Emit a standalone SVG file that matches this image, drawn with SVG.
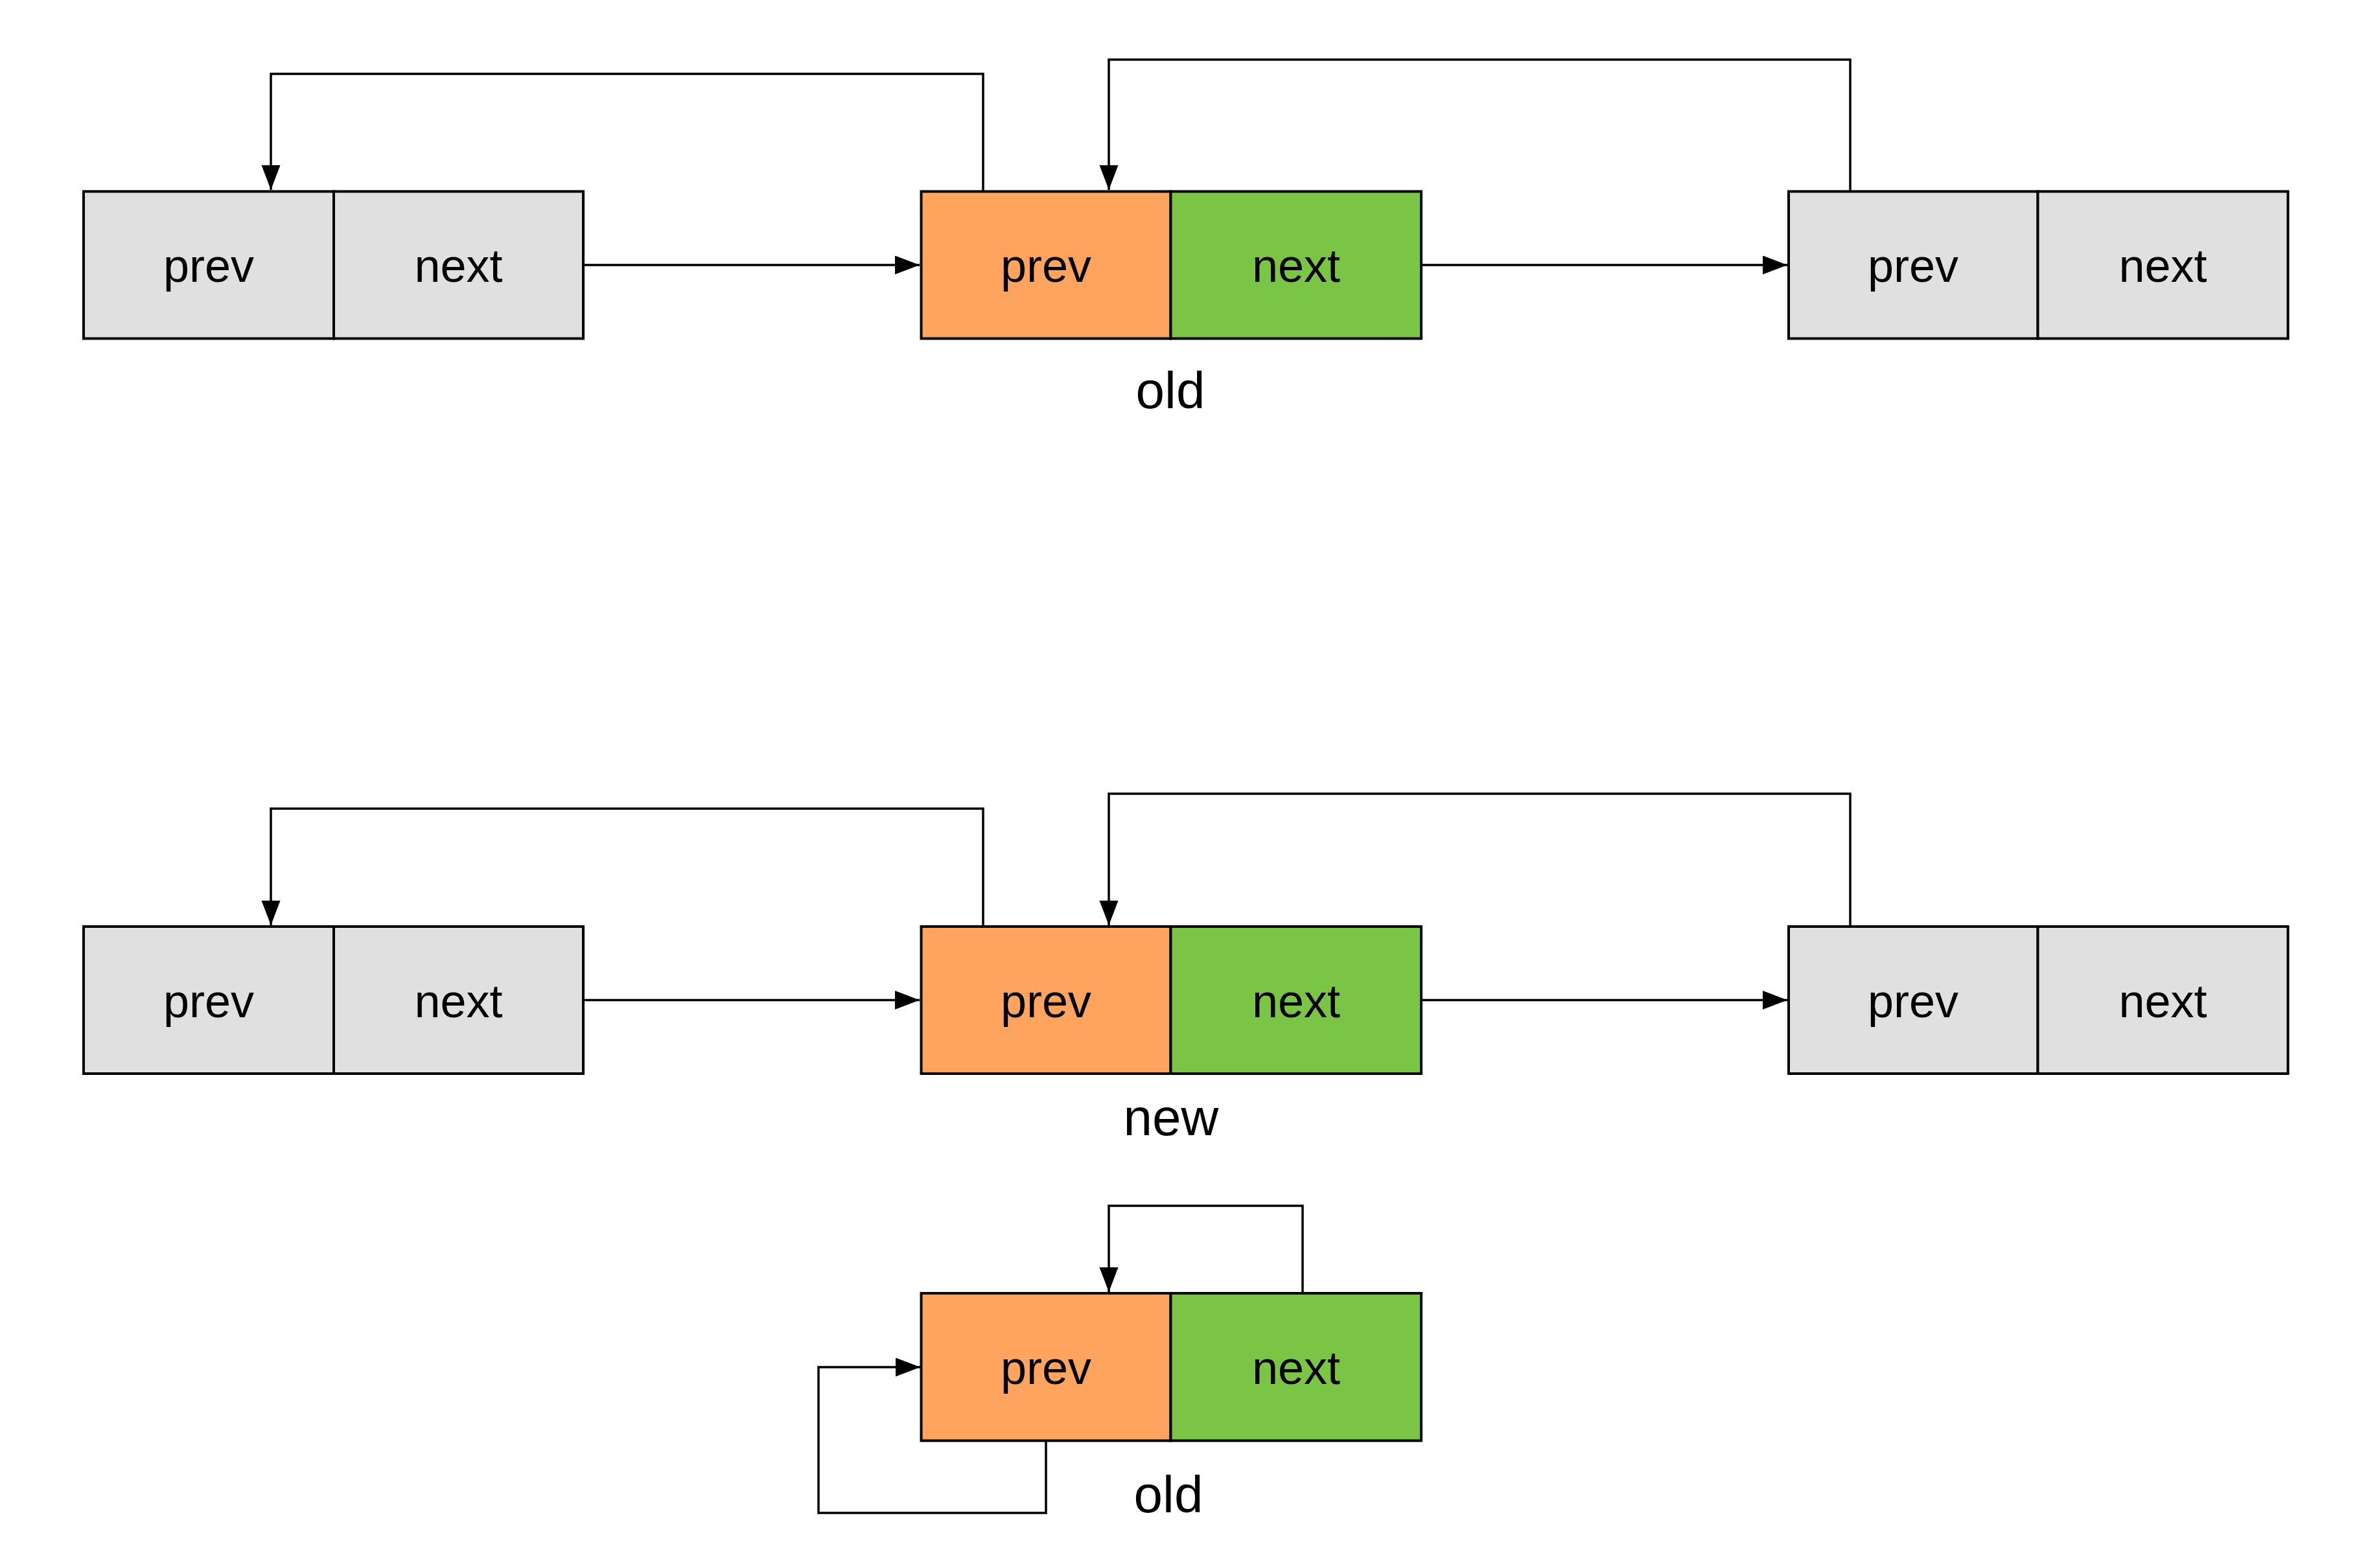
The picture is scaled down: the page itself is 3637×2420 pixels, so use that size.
<svg xmlns="http://www.w3.org/2000/svg" width="3637" height="2420" viewBox="0 0 3637 2420">
<style>
.cell{stroke:#000;stroke-width:4}
.gray{fill:#E0E0E0}
.orange{fill:#FFA45F}
.green{fill:#7AC546}
.t{font-family:"Liberation Sans",Arial,sans-serif;font-size:72px;fill:#000;text-anchor:middle}
.lbl{font-family:"Liberation Sans",Arial,sans-serif;font-size:80px;fill:#000;text-anchor:middle}
.c{fill:none;stroke:#000;stroke-width:3.5;marker-end:url(#ah)}
</style>
<defs>
<marker id="ah" markerUnits="userSpaceOnUse" markerWidth="40" markerHeight="30" refX="38" refY="14.5" orient="auto" viewBox="0 0 40 30">
<path d="M0,0 L38,14.5 L0,29 z" fill="#000"/>
</marker>
</defs>
<rect width="3637" height="2420" fill="#fff"/>

<g id="connectors">
<path class="c" d="M900,409 H1419"/>
<path class="c" d="M2193,409 H2758"/>
<path class="c" d="M1517,295 V114 H418 V293"/>
<path class="c" d="M2855,295 V92 H1711 V293"/>
<path class="c" d="M900,1543.5 H1419"/>
<path class="c" d="M2193,1543.5 H2758"/>
<path class="c" d="M1517,1430 V1248 H418 V1428"/>
<path class="c" d="M2855,1430 V1225 H1711 V1428"/>
<path class="c" d="M2010,1996 V1861 H1711 V1994"/>
<path class="c" d="M1614,2224 V2335 H1263 V2110 H1420"/>
</g>

<g id="top-left">
<rect class="cell gray" x="129" y="295.5" width="386" height="227"/>
<rect class="cell gray" x="515" y="295.5" width="385" height="227"/>
<text class="t" x="322" y="435">prev</text>
<text class="t" x="707.5" y="435">next</text>
</g>
<g id="top-old">
<rect class="cell orange" x="1421.5" y="295.5" width="385" height="227"/>
<rect class="cell green" x="1806.5" y="295.5" width="386.5" height="227"/>
<text class="t" x="1614" y="435">prev</text>
<text class="t" x="2000" y="435">next</text>
<text class="lbl" x="1806" y="630">old</text>
</g>
<g id="top-right">
<rect class="cell gray" x="2760" y="295.5" width="384.5" height="227"/>
<rect class="cell gray" x="3144.5" y="295.5" width="386" height="227"/>
<text class="t" x="2952" y="435">prev</text>
<text class="t" x="3337.5" y="435">next</text>
</g>

<g id="mid-left">
<rect class="cell gray" x="129" y="1430" width="386" height="227"/>
<rect class="cell gray" x="515" y="1430" width="385" height="227"/>
<text class="t" x="322" y="1569.5">prev</text>
<text class="t" x="707.5" y="1569.5">next</text>
</g>
<g id="mid-new">
<rect class="cell orange" x="1421.5" y="1430" width="385" height="227"/>
<rect class="cell green" x="1806.5" y="1430" width="386.5" height="227"/>
<text class="t" x="1614" y="1569.5">prev</text>
<text class="t" x="2000" y="1569.5">next</text>
<text class="lbl" x="1807" y="1752">new</text>
</g>
<g id="mid-right">
<rect class="cell gray" x="2760" y="1430" width="384.5" height="227"/>
<rect class="cell gray" x="3144.5" y="1430" width="386" height="227"/>
<text class="t" x="2952" y="1569.5">prev</text>
<text class="t" x="3337.5" y="1569.5">next</text>
</g>

<g id="bottom-old">
<rect class="cell orange" x="1421.5" y="1996" width="385" height="227.5"/>
<rect class="cell green" x="1806.5" y="1996" width="386.5" height="227.5"/>
<text class="t" x="1614" y="2136">prev</text>
<text class="t" x="2000" y="2136">next</text>
<text class="lbl" x="1803" y="2334">old</text>
</g>
</svg>
